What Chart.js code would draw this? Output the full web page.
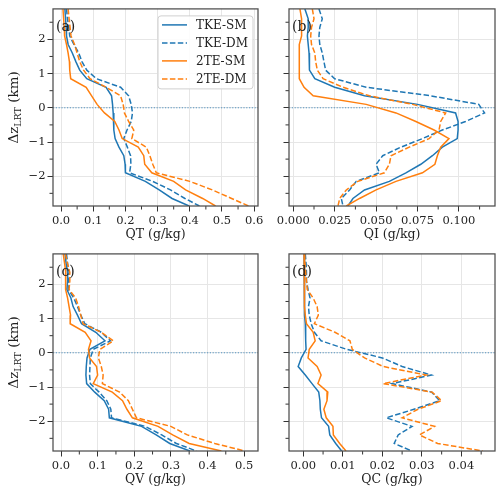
<!DOCTYPE html>
<html>
<head>
<meta charset="utf-8">
<script src="https://cdn.jsdelivr.net/npm/chart.js@4.4.1/dist/chart.umd.min.js"></script>
<style>
  body { margin: 0; background: #fff; }
  .panel { position: absolute; }
</style>
</head>
<body>
<div class="panel" style="left:0;top:0;width:270px;height:245px"><canvas id="qt"></canvas></div>
<div class="panel" style="left:262px;top:0;width:238px;height:245px"><canvas id="qi"></canvas></div>
<div class="panel" style="left:0;top:245px;width:270px;height:245px"><canvas id="qv"></canvas></div>
<div class="panel" style="left:262px;top:245px;width:238px;height:245px"><canvas id="qc"></canvas></div>
<script>
// height relative to the lapse-rate tropopause (km)
var heights = [2.89, 2.6, 2.35, 2.1, 1.85, 1.6, 1.35, 1.1, 0.85, 0.6, 0.35, 0.1,
               -0.15, -0.4, -0.65, -0.9, -1.15, -1.4, -1.65, -1.9, -2.15, -2.4, -2.65, -2.87];

var seriesNames = ['TKE-SM', 'TKE-DM', '2TE-SM', '2TE-DM'];

// QT (g/kg)
var qtTkeSm = [0.012, 0.014, 0.016, 0.017, 0.022, 0.035, 0.046, 0.058, 0.08, 0.14, 0.157, 0.16,
               0.162, 0.164, 0.164, 0.168, 0.18, 0.195, 0.199, 0.2, 0.262, 0.305, 0.345, 0.398];
var qtTkeDm = [0.017, 0.02, 0.024, 0.027, 0.04, 0.055, 0.065, 0.08, 0.11, 0.185, 0.21, 0.218,
               0.222, 0.218, 0.205, 0.195, 0.206, 0.216, 0.217, 0.213, 0.285, 0.34, 0.385, 0.43];
var qtTeSm  = [0.006, 0.008, 0.01, 0.011, 0.017, 0.022, 0.026, 0.027, 0.03, 0.078, 0.095, 0.112,
               0.135, 0.167, 0.18, 0.19, 0.24, 0.257, 0.26, 0.282, 0.35, 0.387, 0.44, 0.48];
var qtTeDm  = [0.022, 0.025, 0.028, 0.031, 0.042, 0.05, 0.058, 0.07, 0.09, 0.14, 0.185, 0.193,
               0.197, 0.21, 0.226, 0.22, 0.265, 0.276, 0.285, 0.296, 0.4, 0.47, 0.53, 0.583];

// QI (g/kg)
var qiTkeSm = [0.007, 0.009, 0.009, 0.0085, 0.009, 0.0095, 0.0095, 0.010, 0.013, 0.025, 0.043, 0.075,
               0.098, 0.0995, 0.0995, 0.099, 0.09, 0.084, 0.077, 0.068, 0.058, 0.043, 0.036, 0.033];
var qiTkeDm = [0.0155, 0.0175, 0.016, 0.0155, 0.016, 0.0175, 0.0185, 0.0195, 0.025, 0.044, 0.083, 0.112,
               0.1155, 0.104, 0.09, 0.078, 0.065, 0.054, 0.05, 0.052, 0.038, 0.034, 0.029, 0.03];
var qiTeSm  = [0.004, 0.005, 0.005, 0.005, 0.0036, 0.0035, 0.0035, 0.0035, 0.004, 0.0065, 0.012, 0.044,
               0.062, 0.074, 0.085, 0.094, 0.089, 0.087, 0.0855, 0.078, 0.062, 0.05, 0.04, 0.032];
var qiTeDm  = [0.0115, 0.0125, 0.011, 0.0105, 0.011, 0.013, 0.0135, 0.0145, 0.018, 0.03, 0.046, 0.072,
               0.092, 0.089, 0.088, 0.082, 0.07, 0.059, 0.058, 0.055, 0.039, 0.032, 0.028, 0.027];

// QV (g/kg)
var qvTkeSm = [0.011, 0.014, 0.018, 0.018, 0.016, 0.027, 0.033, 0.045, 0.056, 0.095, 0.12, 0.079,
               0.071, 0.069, 0.068, 0.07, 0.092, 0.118, 0.13, 0.132, 0.22, 0.26, 0.297, 0.352];
var qvTkeDm = [0.015, 0.018, 0.022, 0.021, 0.02, 0.035, 0.045, 0.054, 0.065, 0.11, 0.135, 0.088,
               0.08, 0.079, 0.078, 0.08, 0.104, 0.125, 0.136, 0.138, 0.23, 0.275, 0.315, 0.37];
var qvTeSm  = [0.006, 0.01, 0.013, 0.013, 0.012, 0.018, 0.022, 0.026, 0.025, 0.066, 0.082, 0.075,
               0.078, 0.097, 0.1, 0.088, 0.14, 0.168, 0.18, 0.195, 0.265, 0.305, 0.35, 0.438];
var qvTeDm  = [0.012, 0.018, 0.024, 0.024, 0.022, 0.04, 0.048, 0.054, 0.06, 0.11, 0.143, 0.106,
               0.102, 0.11, 0.115, 0.113, 0.16, 0.184, 0.195, 0.206, 0.3, 0.345, 0.42, 0.502];

// QC (g/kg)
var qcTkeSm = [0.0002, 0.0003, 0.0003, 0.0003, 0.0003, 0.0003, 0.0003, 0.0004, 0.0005, 0.0006, 0.0006, 0.0007,
               -0.0005, -0.0013, 0.0005, 0.0022, 0.0039, 0.0042, 0.0043, 0.0046, 0.0064, 0.0067, 0.0082, 0.0097];
var qcTkeDm = [0.0005, 0.0007, 0.0008, 0.0008, 0.0012, 0.0017, 0.0013, 0.0015, 0.002, 0.0028, 0.0045, 0.011,
               0.02, 0.025, 0.0324, 0.0225, 0.0325, 0.0345, 0.028, 0.021, 0.0275, 0.024, 0.023, 0.0275];
var qcTeSm  = [0.0002, 0.0002, 0.0003, 0.0003, 0.0003, 0.0003, 0.0004, 0.0005, 0.0008, 0.0025, 0.003, 0.0015,
               0.0012, 0.0035, 0.0045, 0.0037, 0.0062, 0.006, 0.0052, 0.0058, 0.0075, 0.0076, 0.0092, 0.0108];
var qcTeDm  = [0.0003, 0.0004, 0.0006, 0.0008, 0.001, 0.0025, 0.0035, 0.0038, 0.0028, 0.008, 0.0118, 0.0124,
               0.0155, 0.0202, 0.031, 0.0202, 0.0326, 0.035, 0.029, 0.025, 0.0332, 0.0294, 0.034, 0.0454];

var FONT = 'DejaVu Serif';
var BLUE = '#1f77b4', ORANGE = '#ff7f0e';
var colors = [BLUE, BLUE, ORANGE, ORANGE];
var dashes = [[], [5.5, 2.4], [], [5.5, 2.4]];
var INK = '#333';

function minus(s) { return s.replace('-', '\u2212'); }

// frame, minor ticks, zero line, panel letter, legend, y title
var decorPlugin = {
  id: 'decor',
  beforeDatasetsDraw: function (chart) {
    var ctx = chart.ctx, ca = chart.chartArea;
    var y0 = chart.scales.y.getPixelForValue(0);
    ctx.save();
    ctx.strokeStyle = 'rgba(31,119,180,0.75)';
    ctx.lineWidth = 1;
    ctx.setLineDash([1.2, 1.6]);
    ctx.beginPath();
    ctx.moveTo(ca.left, y0);
    ctx.lineTo(ca.right, y0);
    ctx.stroke();
    ctx.restore();
  },
  afterDraw: function (chart, args, opts) {
    var ctx = chart.ctx, ca = chart.chartArea;
    var xs = chart.scales.x, ys = chart.scales.y;
    ctx.save();
    // minor ticks
    ctx.strokeStyle = INK;
    ctx.lineWidth = 1;
    var i, p;
    for (i = Math.ceil(xs.min / opts.xMinor); i <= Math.floor(xs.max / opts.xMinor); i++) {
      if (i % 2 === 0) continue;
      p = xs.getPixelForValue(i * opts.xMinor);
      ctx.beginPath(); ctx.moveTo(p, ca.bottom); ctx.lineTo(p, ca.bottom + 3.5); ctx.stroke();
    }
    for (i = Math.ceil(ys.min / 0.5); i <= Math.floor(ys.max / 0.5); i++) {
      if (i % 2 === 0) continue;
      p = ys.getPixelForValue(i * 0.5);
      ctx.beginPath(); ctx.moveTo(ca.left, p); ctx.lineTo(ca.left - 3.5, p); ctx.stroke();
    }
    // frame
    ctx.strokeStyle = '#4d4d4d';
    ctx.lineWidth = 1.25;
    ctx.strokeRect(ca.left, ca.top, ca.right - ca.left, ca.bottom - ca.top);
    // panel letter
    ctx.fillStyle = '#222';
    ctx.font = '14px "' + FONT + '"';
    ctx.textBaseline = 'middle';
    ctx.textAlign = 'left';
    ctx.fillText(opts.label, ca.left + 3, ca.top + 18);

    if (opts.legend) {
      var bx = ca.right - 100, by = ca.top + 7, bw = 95, bh = 73;
      ctx.fillStyle = 'rgba(255,255,255,0.85)';
      ctx.strokeStyle = '#d0d0d0';
      ctx.lineWidth = 1;
      ctx.beginPath();
      ctx.roundRect(bx, by, bw, bh, 3);
      ctx.fill();
      ctx.stroke();
      ctx.font = '12px "' + FONT + '"';
      chart.data.datasets.forEach(function (ds, k) {
        var ly = by + 9 + k * 18;
        ctx.strokeStyle = ds.borderColor;
        ctx.lineWidth = ds.borderWidth;
        ctx.setLineDash(ds.borderDash);
        ctx.beginPath(); ctx.moveTo(bx + 4, ly); ctx.lineTo(bx + 29, ly); ctx.stroke();
        ctx.setLineDash([]);
        ctx.fillStyle = '#222';
        ctx.fillText(ds.label, bx + 38, ly + 0.5);
      });
    }

    if (opts.ytitle) {
      var big = '13.5px "' + FONT + '"', small = '9.5px "' + FONT + '"';
      ctx.font = big; var w1 = ctx.measureText('\u0394z').width, w3 = ctx.measureText(' (km)').width;
      ctx.font = small; var w2 = ctx.measureText('LRT').width;
      var cy = (ca.top + ca.bottom) / 2;
      ctx.translate(13, cy);
      ctx.rotate(-Math.PI / 2);
      ctx.fillStyle = '#222';
      ctx.textBaseline = 'alphabetic';
      var x0 = -(w1 + w2 + w3) / 2;
      ctx.font = big; ctx.fillText('\u0394z', x0, 4.5);
      ctx.font = small; ctx.fillText('LRT', x0 + w1, 8);
      ctx.font = big; ctx.fillText(' (km)', x0 + w1 + w2, 4.5);
    }
    ctx.restore();
  }
};

function makePanel(id, cols, xTitle, xMin, xMax, xStep, digits, letter, left) {
  var datasets = cols.map(function (vals, k) {
    return {
      label: seriesNames[k],
      data: heights.map(function (z, j) { return { x: vals[j], y: z }; }),
      showLine: true,
      borderColor: colors[k],
      borderWidth: 1.5,
      borderDash: dashes[k],
      pointRadius: 0,
      tension: 0,
      order: 3 - k
    };
  });
  return new Chart(document.getElementById(id), {
    type: 'scatter',
    data: { datasets: datasets },
    plugins: [decorPlugin],
    options: {
      responsive: true,
      maintainAspectRatio: false,
      animation: false,
      layout: { padding: { top: 5, right: left ? 12 : 5, bottom: 0, left: 0 } },
      plugins: {
        legend: { display: false },
        tooltip: { enabled: false },
        decor: { label: letter, legend: id === 'qt', ytitle: left, xMinor: xStep / 2 }
      },
      scales: {
        x: {
          type: 'linear', min: xMin, max: xMax,
          grid: { color: '#e6e6e6', tickColor: INK, tickLength: 5.5 },
          border: { display: false },
          ticks: {
            stepSize: xStep, includeBounds: false, maxRotation: 0, autoSkip: false,
            color: '#222', padding: 3, font: { family: FONT, size: 11.5 },
            callback: function (v) { return minus(v.toFixed(digits)); }
          },
          title: { display: true, text: xTitle, color: '#222', font: { family: FONT, size: 12.5 },
                   padding: { top: 0, bottom: 2.5 } },
          afterFit: function (s) { s.height = 39; }
        },
        y: {
          type: 'linear', min: -2.87, max: 2.89,
          grid: { color: '#e6e6e6', tickColor: INK, tickLength: 5.5 },
          border: { display: false },
          ticks: {
            stepSize: 1, includeBounds: false, color: '#222', padding: 2,
            font: { family: FONT, size: 11.5 },
            callback: function (v) { return left ? minus(String(v)) : ''; }
          },
          afterFit: function (s) { s.width = left ? 53 : 27; }
        }
      }
    }
  });
}

makePanel('qt', [qtTkeSm, qtTkeDm, qtTeSm, qtTeDm], 'QT (g/kg)', -0.025, 0.612, 0.1, 1, '(a)', true);
makePanel('qi', [qiTkeSm, qiTkeDm, qiTeSm, qiTeDm], 'QI (g/kg)', -0.0026, 0.1218, 0.025, 3, '(b)', false);
makePanel('qv', [qvTkeSm, qvTkeDm, qvTeSm, qvTeDm], 'QV (g/kg)', -0.0219, 0.538, 0.1, 1, '(c)', true);
makePanel('qc', [qcTkeSm, qcTkeDm, qcTeSm, qcTeDm], 'QC (g/kg)', -0.00362, 0.0485, 0.01, 2, '(d)', false);
</script>
</body>
</html>
